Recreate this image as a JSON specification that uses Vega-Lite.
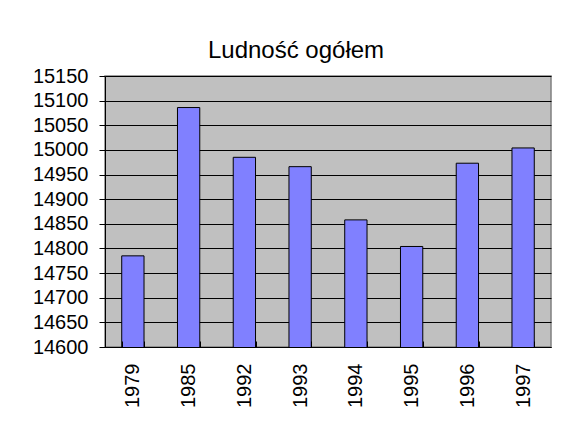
{
  "$schema": "https://vega.github.io/schema/vega-lite/v6.json",
  "autosize": "none",
  "width": 446,
  "height": 271,
  "padding": {"left": 105, "top": 76, "right": 31, "bottom": 74},
  "background": "white",
  "title": {
    "text": "Ludność ogółem",
    "font": "Liberation Sans",
    "fontSize": 24,
    "fontWeight": "normal",
    "color": "black",
    "anchor": "middle",
    "frame": "group",
    "dx": -32,
    "offset": 3
  },
  "data": {
    "values": [
      {"rok": "1979", "ludnosc": 14785},
      {"rok": "1985", "ludnosc": 15086},
      {"rok": "1992", "ludnosc": 14985},
      {"rok": "1993", "ludnosc": 14966},
      {"rok": "1994", "ludnosc": 14858},
      {"rok": "1995", "ludnosc": 14804},
      {"rok": "1996", "ludnosc": 14973},
      {"rok": "1997", "ludnosc": 15004}
    ]
  },
  "mark": {"type": "bar", "fill": "#8080FF", "stroke": "black", "strokeWidth": 1, "clip": true},
  "encoding": {
    "x": {
      "field": "rok",
      "type": "ordinal",
      "sort": null,
      "scale": {"paddingInner": 0.6, "paddingOuter": 0.3},
      "axis": {
        "title": null,
        "labelAngle": -90,
        "labelFont": "Liberation Sans",
        "labelFontSize": 20,
        "labelColor": "black",
        "tickBand": "extent",
        "tickSize": -6,
        "tickColor": "black",
        "labelPadding": 22,
        "domainColor": "black",
        "grid": false,
        "zindex": 1
      }
    },
    "y": {
      "field": "ludnosc",
      "type": "quantitative",
      "scale": {"domain": [14600, 15150], "zero": false, "nice": false},
      "axis": {
        "title": null,
        "values": [14600, 14650, 14700, 14750, 14800, 14850, 14900, 14950, 15000, 15050, 15100, 15150],
        "labelFont": "Liberation Sans",
        "labelFontSize": 20,
        "labelColor": "black",
        "tickSize": 6,
        "tickColor": "black",
        "labelPadding": 11,
        "domainColor": "black",
        "grid": true,
        "gridColor": "black",
        "gridWidth": 1,
        "format": "d"
      }
    }
  },
  "config": {
    "view": {"fill": "#C0C0C0", "stroke": "#808080", "strokeWidth": 1.5}
  }
}
